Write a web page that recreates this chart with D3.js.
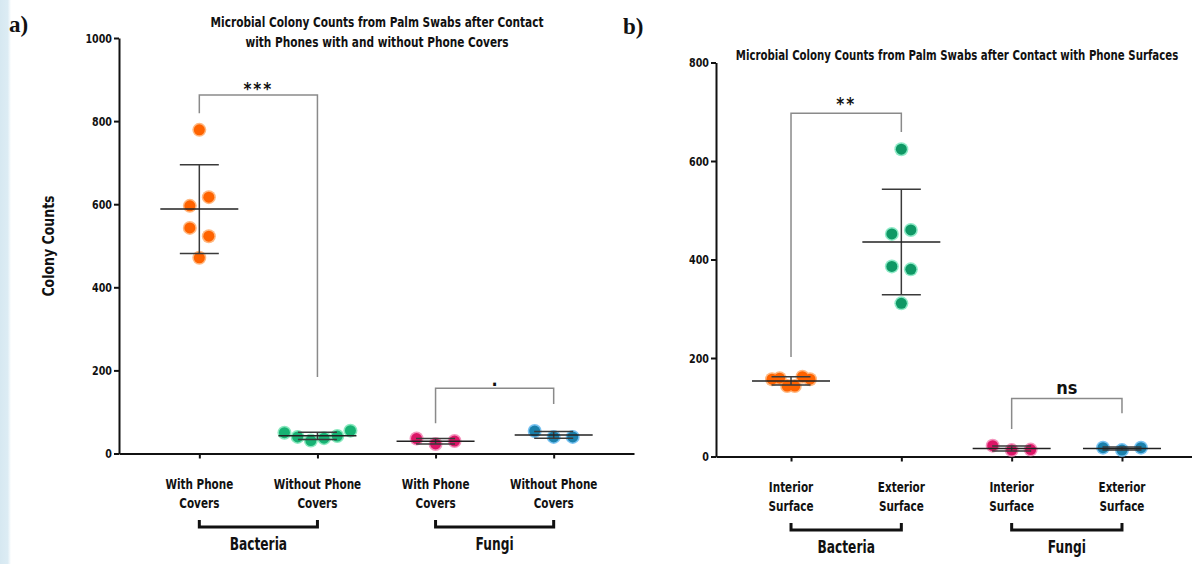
<!DOCTYPE html>
<html><head><meta charset="utf-8">
<script src="https://cdn.jsdelivr.net/npm/d3@7"></script>
<style>
html,body{margin:0;padding:0;background:#fff;}
svg{display:block;}
text{font-family:"DejaVu Sans Condensed","Liberation Sans Narrow",sans-serif;font-weight:bold;fill:#111;}
.serif{font-family:"Liberation Serif","Times New Roman",serif;}
</style></head>
<body>
<svg id="chart" width="1192" height="564"></svg>
<script>
// ---------- Panel a data ----------
const categoriesA = ["bac-with", "bac-without", "fun-with", "fun-without"];
const tickLabelsA = [["With Phone", "Covers"], ["Without Phone", "Covers"], ["With Phone", "Covers"], ["Without Phone", "Covers"]];
const groupsA = ["Bacteria", "Fungi"];
const bacteriaWithCovers = [779, 596, 617, 543, 523, 471];
const bacteriaWithoutCovers = [50, 40, 31, 37, 42, 55];
const fungiWithCovers = [36, 23, 30];
const fungiWithoutCovers = [54, 40, 40];
const yTicksA = [0, 200, 400, 600, 800, 1000];
const titleA = ["Microbial Colony Counts from Palm Swabs after Contact", "with Phones with and without Phone Covers"];
const bracketsA = [
  {from: "bac-with", to: "bac-without", top: 863, leftEnd: 819, rightEnd: 184, label: "***"},
  {from: "fun-with", to: "fun-without", top: 157, leftEnd: 73, rightEnd: 119, label: "."}
];

// ---------- Panel b data ----------
const categoriesB = ["bac-int", "bac-ext", "fun-int", "fun-ext"];
const tickLabelsB = [["Interior", "Surface"], ["Exterior", "Surface"], ["Interior", "Surface"], ["Exterior", "Surface"]];
const groupsB = ["Bacteria", "Fungi"];
const bacteriaInterior = [157, 159, 143, 143, 162, 157];
const bacteriaExterior = [624, 452, 460, 386, 380, 311];
const fungiInterior = [22, 13, 14];
const fungiExterior = [18, 13, 18];
const yTicksB = [0, 200, 400, 600, 800];
const titleB = ["Microbial Colony Counts from Palm Swabs after Contact with Phone Surfaces"];
const bracketsB = [
  {from: "bac-int", to: "bac-ext", top: 697, leftEnd: 202, rightEnd: 659, label: "**"},
  {from: "fun-int", to: "fun-ext", top: 118, leftEnd: 56, rightEnd: 88, label: "ns"}
];

const yLabel = "Colony Counts";

// ---------- styles ----------
const colors = {
  orange: {main: "#ff6300", halo: "#ffab6b"},
  greenA: {main: "#17b273", halo: "#74e4b3"},
  greenB: {main: "#0f9865", halo: "#7ae6bd"},
  magenta: {main: "#dc1567", halo: "#f281b2"},
  blue: {main: "#1a80ab", halo: "#62b9f0"}
};

const svg = d3.select("#chart");

// condensed text helper: horizontal compression to mimic a condensed face
function ctext(parent, x, y, str, size, sx, anchor = "middle") {
  return parent.append("text")
    .attr("transform", `translate(${x},${y}) scale(${sx},1)`)
    .attr("text-anchor", anchor)
    .style("font-size", size + "px")
    .text(str);
}

// left light-blue strip
const grad = svg.append("defs").append("linearGradient").attr("id", "strip").attr("x1", 0).attr("x2", 1);
grad.append("stop").attr("offset", "0%").attr("stop-color", "#d6e8f1");
grad.append("stop").attr("offset", "70%").attr("stop-color", "#dcecf4");
grad.append("stop").attr("offset", "100%").attr("stop-color", "#ffffff");
svg.append("rect").attr("x", 0).attr("y", 0).attr("width", 11).attr("height", 564).attr("fill", "url(#strip)");

function swarm(values, y, maxSpan) {
  // group points that overlap vertically, spread each group symmetrically
  const idx = values.map((v, i) => i).sort((a, b) => values[a] - values[b]);
  const groups = [];
  let cur = [idx[0]];
  for (let k = 1; k < idx.length; k++) {
    if (Math.abs(y(values[idx[k]]) - y(values[idx[k - 1]])) < 13) cur.push(idx[k]);
    else { groups.push(cur); cur = [idx[k]]; }
  }
  groups.push(cur);
  const off = new Array(values.length).fill(0);
  groups.forEach(g => {
    g.sort((a, b) => a - b);
    const n = g.length;
    if (n < 2) return;
    const s = Math.min(19, maxSpan / (n - 1));
    g.forEach((i, j) => off[i] = (j - (n - 1) / 2) * s);
  });
  return off;
}

function panel(cfg) {
  const g = svg.append("g");
  const x = d3.scalePoint().domain(cfg.categories).range(cfg.xRange).padding(0.68);
  const y = d3.scaleLinear().domain(cfg.yDomain).range(cfg.yRange);
  const y0 = y(0);

  // y axis
  const ya = g.append("g").attr("transform", `translate(${cfg.xRange[0]},0)`)
    .call(d3.axisLeft(y).tickValues(cfg.yTicks).tickSize(5).tickSizeOuter(0).tickFormat(() => ""));
  ya.select(".domain").attr("stroke", "#111").attr("stroke-width", 2);
  ya.selectAll(".tick line").attr("stroke", "#111").attr("stroke-width", 2);
  cfg.yTicks.forEach(t => {
    ctext(g, cfg.xRange[0] - 7, y(t) + 4.5, d3.format("d")(t), 12.5, 0.85, "end");
  });

  // x axis
  const xa = g.append("g").attr("transform", `translate(0,${y0})`)
    .call(d3.axisBottom(x).tickSize(5).tickSizeOuter(0).tickFormat(""));
  xa.select(".domain").attr("stroke", "#111").attr("stroke-width", 2);
  xa.selectAll(".tick line").attr("stroke", "#111").attr("stroke-width", 2);

  // tick labels (two lines)
  cfg.categories.forEach((c, i) => {
    cfg.tickLabels[i].forEach((line, j) => {
      ctext(g, x(c), y0 + 35.5 + j * 19, line, 14.5, 0.8);
    });
  });

  // group brackets
  cfg.groups.forEach((name, gi) => {
    const xa1 = x(cfg.categories[gi * 2]), xa2 = x(cfg.categories[gi * 2 + 1]);
    const by = y0 + 73.5;
    g.append("path").attr("d", `M${xa1},${by - 7}V${by}H${xa2}V${by - 7}`)
      .attr("fill", "none").attr("stroke", "#111").attr("stroke-width", 3);
    ctext(g, (xa1 + xa2) / 2, by + 23, name, 17, 0.8);
  });

  // significance brackets
  cfg.brackets.forEach(b => {
    const x1 = x(b.from), x2 = x(b.to);
    g.append("path").attr("d", `M${x1},${y(b.leftEnd)}V${y(b.top)}H${x2}V${y(b.rightEnd)}`)
      .attr("fill", "none").attr("stroke", "#8a8a8a").attr("stroke-width", 1.5);
    let fs, dy;
    if (b.label === "ns") { fs = 18; dy = -4; }
    else if (b.label === ".") { fs = 18; dy = -2; }
    else { fs = 17; dy = b.label.length === 3 ? 0 : -3.5; }
    g.append("text").attr("x", (x1 + x2) / 2).attr("y", y(b.top) + dy).attr("text-anchor", "middle")
      .attr("letter-spacing", b.label.startsWith("*") ? 2 : 0)
      .style("font-size", fs + "px").text(b.label);
  });

  // points + mean/SD
  cfg.series.forEach(s => {
    const cx = x(s.cat);
    const off = swarm(s.values, y, cfg.maxSpan);
    const pts = g.append("g");
    pts.selectAll("circle.halo").data(s.values).join("circle").attr("class", "halo")
      .attr("cx", (d, i) => cx + off[i]).attr("cy", d => y(d)).attr("r", 7)
      .attr("fill", s.color.halo).attr("opacity", 0.85);
    pts.selectAll("circle.dot").data(s.values).join("circle").attr("class", "dot")
      .attr("cx", (d, i) => cx + off[i]).attr("cy", d => y(d)).attr("r", 5.5)
      .attr("fill", s.color.main);
    const m = d3.mean(s.values), sd = d3.deviation(s.values);
    const ln = g.append("g").attr("stroke", "#3a3a3a").attr("stroke-width", 1.5).attr("fill", "none");
    ln.append("line").attr("x1", cx).attr("x2", cx).attr("y1", y(m + sd)).attr("y2", y(m - sd));
    ln.append("line").attr("x1", cx - 19.5).attr("x2", cx + 19.5).attr("y1", y(m + sd)).attr("y2", y(m + sd));
    ln.append("line").attr("x1", cx - 19.5).attr("x2", cx + 19.5).attr("y1", y(m - sd)).attr("y2", y(m - sd));
    ln.append("line").attr("x1", cx - 39).attr("x2", cx + 39).attr("y1", y(m)).attr("y2", y(m)).attr("stroke", "#222");
  });

  // title
  cfg.title.forEach((line, j) => {
    ctext(g, cfg.titleX, cfg.titleY + j * 19.5, line, 14, cfg.titleScale);
  });

  // panel letter
  g.append("text").attr("class", "serif").attr("x", cfg.letterX).attr("y", cfg.letterY)
    .style("font-size", "23px").text(cfg.letter);
  return {x, y};
}

panel({
  categories: categoriesA, tickLabels: tickLabelsA, groups: groupsA,
  xRange: [119, 634], yRange: [453.5, 38], yDomain: [0, 1000], yTicks: yTicksA,
  brackets: bracketsA, maxSpan: 66,
  series: [
    {cat: "bac-with", values: bacteriaWithCovers, color: colors.orange},
    {cat: "bac-without", values: bacteriaWithoutCovers, color: colors.greenA},
    {cat: "fun-with", values: fungiWithCovers, color: colors.magenta},
    {cat: "fun-without", values: fungiWithoutCovers, color: colors.blue}
  ],
  title: titleA, titleX: 377, titleY: 27, titleScale: 0.84, letter: "a)", letterX: 9, letterY: 32
});

panel({
  categories: categoriesB, tickLabels: tickLabelsB, groups: groupsB,
  xRange: [716, 1197], yRange: [456.5, 62.5], yDomain: [0, 800], yTicks: yTicksB,
  brackets: bracketsB, maxSpan: 38,
  series: [
    {cat: "bac-int", values: bacteriaInterior, color: colors.orange},
    {cat: "bac-ext", values: bacteriaExterior, color: colors.greenB},
    {cat: "fun-int", values: fungiInterior, color: colors.magenta},
    {cat: "fun-ext", values: fungiExterior, color: colors.blue}
  ],
  title: titleB, titleX: 957, titleY: 60, titleScale: 0.81, letter: "b)", letterX: 623, letterY: 34
});

// y axis label (panel a)
svg.append("text").attr("transform", "translate(54,246) rotate(-90) scale(0.87,1)").attr("text-anchor", "middle")
  .style("font-size", "16px").text(yLabel);
</script>
</body></html>
